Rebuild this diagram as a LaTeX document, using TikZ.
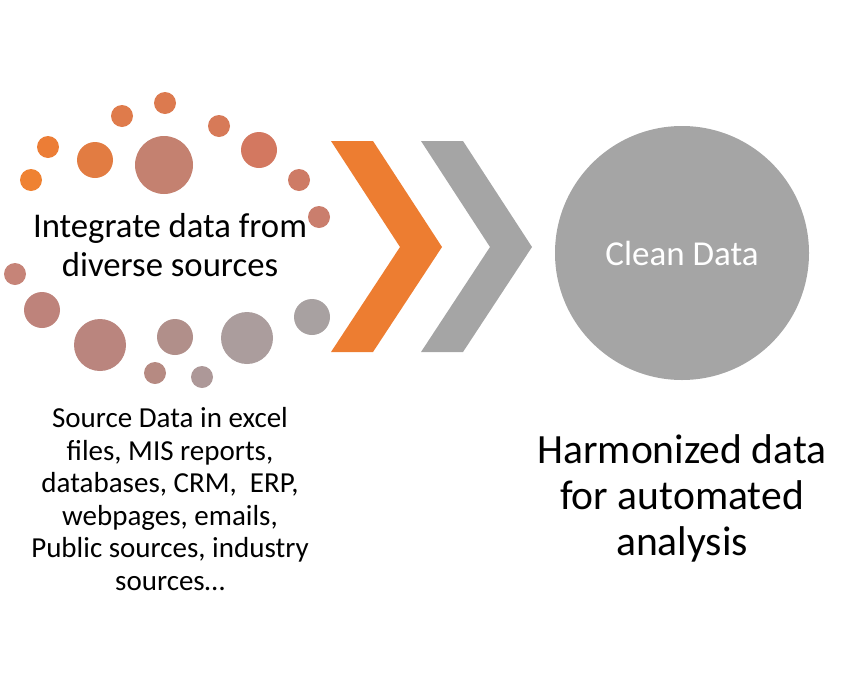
\documentclass[tikz,border=0pt]{standalone}
\usepackage{fontspec}
\setmainfont{Carlito}
\definecolor{orng}{HTML}{ED7D31}
\definecolor{gry}{HTML}{A5A5A5}
\begin{document}
\begin{tikzpicture}[x=1pt, y=-1pt]
\useasboundingbox (0,0) rectangle (862,683);

% Dots around the source text
\foreach \px/\py/\pr/\pc in {48/147/11/EC7D36, 31/180/11/EF8232, 95/160/18/E27C42,
  122/116/11/DF7B4B, 165/103/11/DC7A4F, 164/165/29/C48170, 219/126/11/D77A58,
  259/150/18/D37860, 299/180/11/CE7B65, 319/217/11/CA7E6D, 15/274/11/C68478,
  42/310/18/BE837B, 100/345/26/BA857E, 175/337/18/B18F8A, 155/373/11/B68A82,
  202/377/11/AD9898, 247/338/26/AB9D9D, 312/317/18/A8A1A1}
  {\definecolor{dotc}{HTML}{\pc}\fill[dotc] (\px,\py) circle (\pr);}

% Integrate text
\node[align=center, inner sep=0, font=\fontsize{34.7}{38.5}\selectfont] (integ) at (170,245) {Integrate data from\\diverse sources};

% Source list
\node[align=center, inner sep=0, font=\fontsize{29}{32.5}\selectfont] (src) at (170,499) {Source Data in excel\\files, MIS reports,\\databases, CRM,~ ERP,\\webpages, emails,\\Public sources, industry\\sources\dots};

% Chevrons
\fill[orng] (331,141) -- (373,141) -- (442,247) -- (373,352) -- (331,352) -- (400,247) -- cycle;
\fill[gry] (421,141) -- (463,141) -- (532,247) -- (463,352) -- (421,352) -- (490,247) -- cycle;

% Result circle
\node[circle, fill=gry, minimum size=254pt, inner sep=0, text=white, font=\fontsize{35}{40}\selectfont] (clean) at (682,253) {Clean Data};

% Result text
\node[align=center, inner sep=0, font=\fontsize{41.6}{46}\selectfont] (harm) at (682,498) {Harmonized data\\for automated\\analysis};
\end{tikzpicture}
\end{document}
